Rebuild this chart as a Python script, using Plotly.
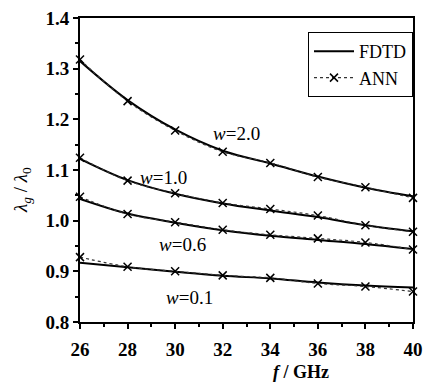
import plotly.graph_objects as go

freq = [26, 28, 30, 32, 34, 36, 38, 40]

fdtd_w20 = [1.315, 1.238, 1.180, 1.138, 1.113, 1.087, 1.065, 1.048]
ann_w20 = [1.318, 1.236, 1.178, 1.136, 1.114, 1.086, 1.066, 1.045]

fdtd_w10 = [1.122, 1.080, 1.053, 1.034, 1.020, 1.007, 0.991, 0.979]
ann_w10 = [1.124, 1.079, 1.054, 1.035, 1.023, 1.010, 0.991, 0.978]

fdtd_w06 = [1.043, 1.014, 0.996, 0.981, 0.970, 0.962, 0.954, 0.944]
ann_w06 = [1.047, 1.013, 0.997, 0.982, 0.972, 0.965, 0.957, 0.943]

fdtd_w01 = [0.917, 0.908, 0.899, 0.891, 0.886, 0.878, 0.872, 0.868]
ann_w01 = [0.928, 0.909, 0.900, 0.892, 0.887, 0.876, 0.870, 0.860]

labels = ["w=2.0", "w=1.0", "w=0.6", "w=0.1"]
label_x = [32.6, 29.5, 30.3, 30.6]
label_y = [1.173, 1.086, 0.952, 0.849]

y_ticks = [0.8, 0.9, 1.0, 1.1, 1.2, 1.3, 1.4]
x_ticks = [26, 28, 30, 32, 34, 36, 38, 40]

serif = "'Liberation Serif', 'Times New Roman', Times, serif"

# page body has an 8px margin; figure sized so everything fits the window
W, H = 424, 375
L, R, T, B = 72, 19, 10, 61
PW, PH = W - L - R, H - T - B

fig = go.Figure()

pairs = [(fdtd_w20, ann_w20), (fdtd_w10, ann_w10), (fdtd_w06, ann_w06), (fdtd_w01, ann_w01)]
for i, (f, a) in enumerate(pairs):
    fig.add_trace(go.Scatter(
        x=freq, y=f, mode="lines", name="FDTD", showlegend=(i == 0),
        line=dict(color="black", width=2, shape="spline"), cliponaxis=False))
    fig.add_trace(go.Scatter(
        x=freq, y=a, mode="lines+markers", name="ANN", showlegend=(i == 0),
        line=dict(color="#333333", width=1.2, dash="dot", shape="spline"),
        marker=dict(symbol="x-thin", size=8, line=dict(color="black", width=1.5)),
        cliponaxis=False))

for t, x, y in zip(labels, label_x, label_y):
    w, v = t.split("=")
    fig.add_annotation(x=x, y=y, xref="x", yref="y", showarrow=False,
                       text="<i>" + w + "</i>=" + v,
                       font=dict(family=serif, size=19, color="black"))

# x-axis title (screen px 301, 372)
fig.add_annotation(x=(301 - 80) / PW, y=-(372 - 322) / PH, xref="paper", yref="paper",
                   xanchor="center", yanchor="middle",
                   showarrow=False, text="<i>f</i> / GHz",
                   font=dict(family=serif, size=18, color="black", weight="bold"))

# y-axis title (screen px 22, 190)
fig.add_annotation(x=-(80 - 22) / PW, y=(322 - 190) / PH,
                   xref="paper", yref="paper", showarrow=False, textangle=-90,
                   xanchor="center", yanchor="middle",
                   text="<i>λ<sub>g</sub></i> / <i>λ</i><sub>0</sub>",
                   font=dict(family=serif, size=19, color="black"))

fig.update_layout(
    width=W, height=H,
    margin=dict(l=L, r=R, t=T, b=B),
    paper_bgcolor="white", plot_bgcolor="white",
    showlegend=True,
    legend=dict(x=1, xanchor="right", y=(322 - 32) / PH, yanchor="top",
                bordercolor="black", borderwidth=1, bgcolor="white",
                font=dict(family=serif, size=18, color="black"),
                tracegroupgap=0, itemwidth=40),
    xaxis=dict(range=[26, 40], tickvals=x_ticks,
               showgrid=False, zeroline=False, showline=True, linecolor="black",
               linewidth=2, mirror=True, ticks="outside", ticklen=5, tickwidth=1.5,
               tickcolor="black", automargin=False, ticklabelstandoff=4,
               ticklabeloverflow="allow",
               minor=dict(dtick=1, ticks="outside", ticklen=3, tickcolor="black"),
               tickfont=dict(family=serif, size=19, color="black", weight="bold")),
    yaxis=dict(range=[0.7999, 1.4001], tickvals=y_ticks,
               tickformat=".1f", automargin=False, ticklabeloverflow="allow",
               showgrid=False, zeroline=False, showline=True, linecolor="black",
               linewidth=2, mirror=True, ticks="outside", ticklen=5, tickwidth=1.5,
               tickcolor="black",
               minor=dict(dtick=0.05, ticks="outside", ticklen=3, tickcolor="black"),
               tickfont=dict(family=serif, size=19, color="black", weight="bold")),
)

fig.write_html("out.html")
